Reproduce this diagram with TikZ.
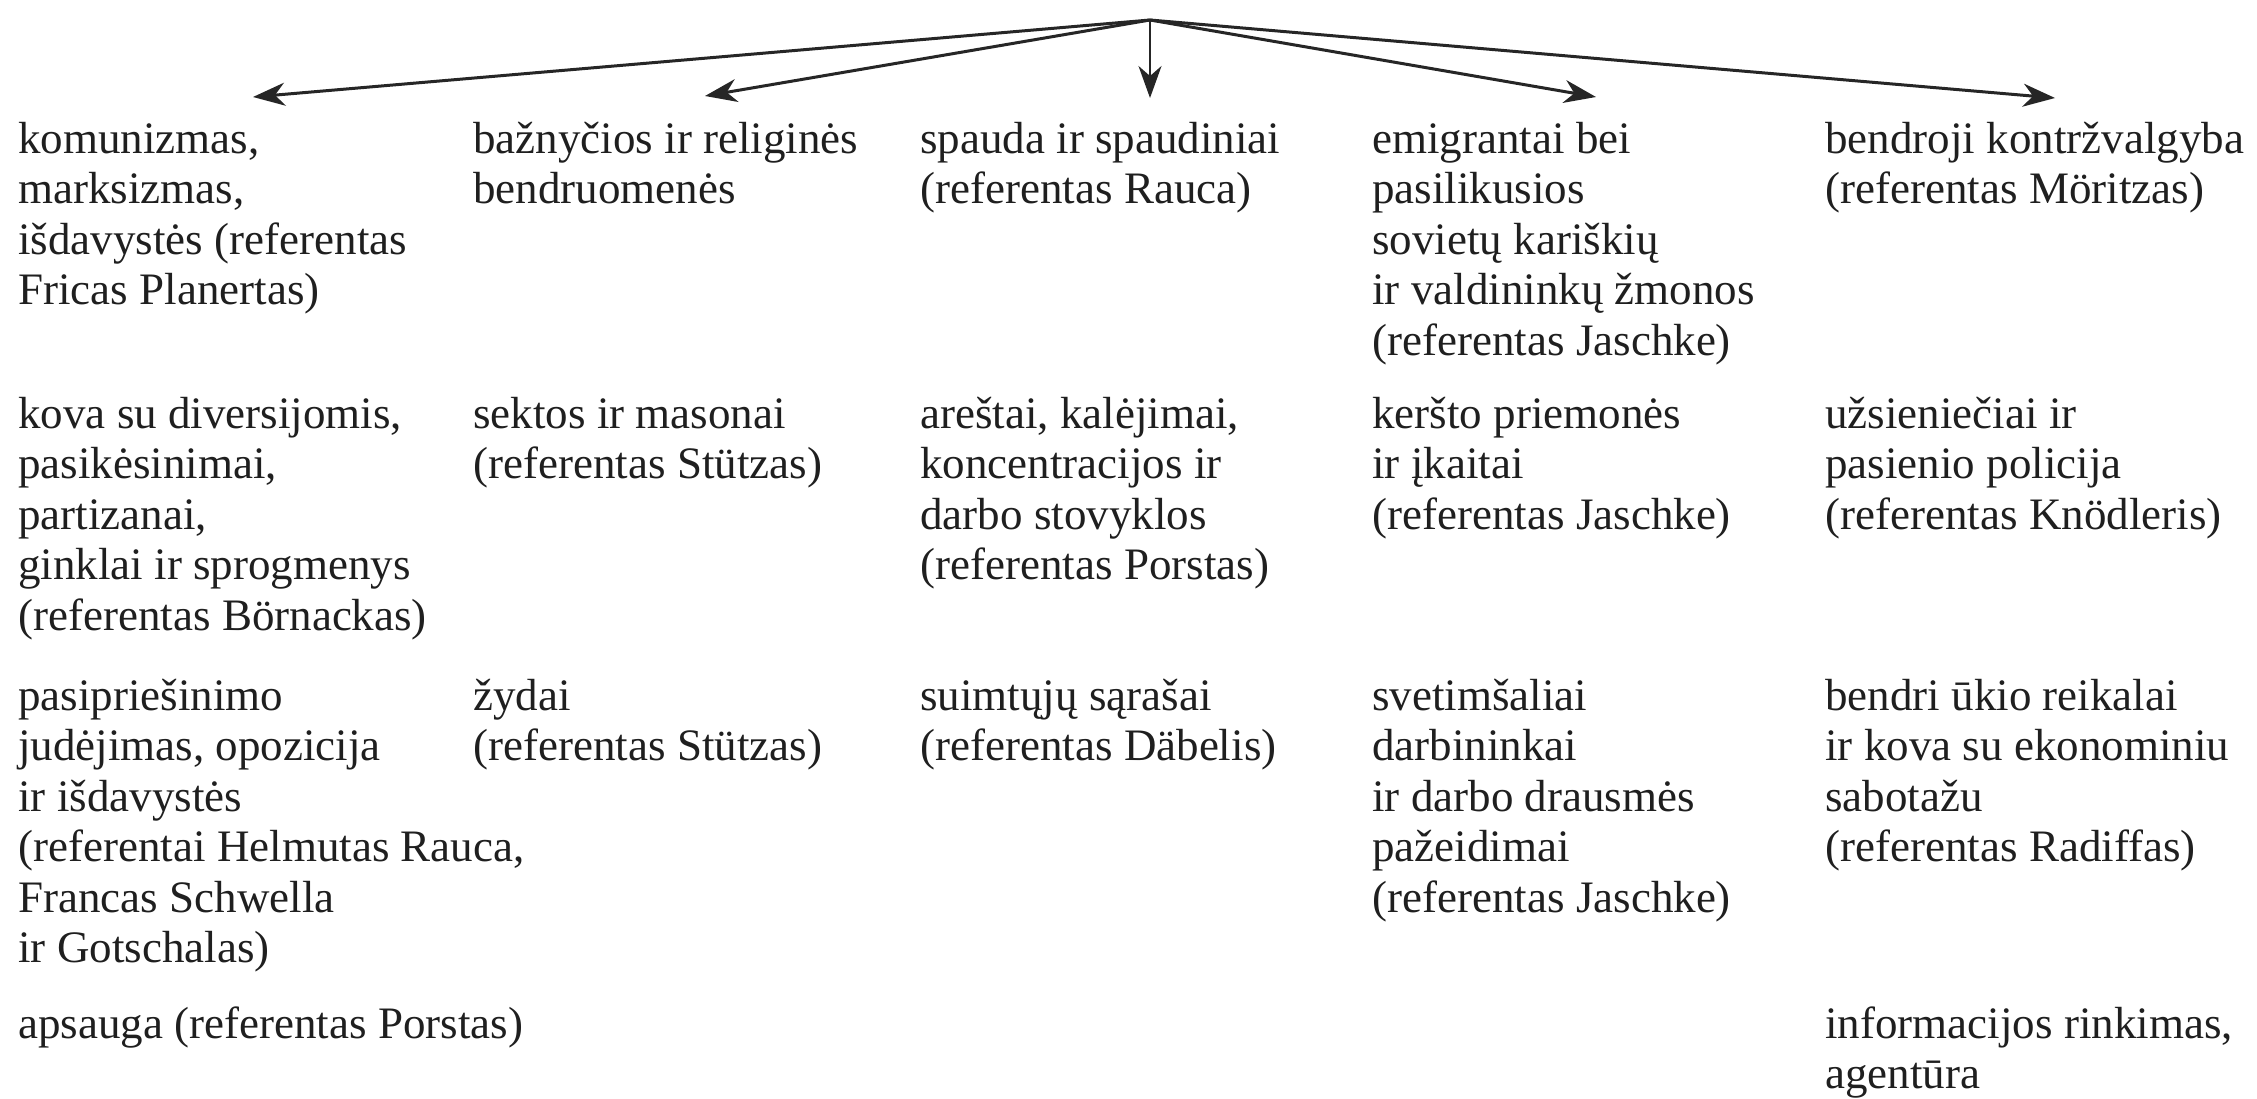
\documentclass[tikz,border=0pt]{standalone}
\usepackage{fontspec}
\setmainfont{Liberation Serif}
\usetikzlibrary{arrows.meta}
\newcommand\firstrule{\rule{0pt}{0.8em}}
\begin{document}
\begin{tikzpicture}[x=0.5pt,y=-0.5pt,
  txt/.style={anchor=north west, inner sep=0pt, align=left, text=black!88,
    font={\fontsize{22.5pt}{25.25pt}\selectfont}},
  arr/.style={draw=black!85, line width=1.5pt,
    -{Stealth[length=16pt,width=11.5pt,inset=5pt]}}]
\useasboundingbox (0,0) rectangle (2257,1098);
% rows: first baselines 153, 428, 710, 1038 ; top = baseline - 36
\def\ra{117}\def\rb{392}\def\rc{674}\def\rd{1002}
% column 1
\node[txt] (c1r1) at (18,\ra) {\firstrule komunizmas,\\marksizmas,\\išdavystės (referentas\\Fricas Planertas)};
\node[txt] (c1r2) at (18,\rb) {\firstrule kova su diversijomis,\\pasikėsinimai,\\partizanai,\\ginklai ir sprogmenys\\(referentas Börnackas)};
\node[txt] (c1r3) at (18,\rc) {\firstrule pasipriešinimo\\judėjimas, opozicija\\ir išdavystės\\(referentai Helmutas Rauca,\\Francas Schwella\\ir Gotschalas)};
\node[txt] (c1r4) at (18,\rd) {\firstrule apsauga (referentas Porstas)};
% column 2
\node[txt] (c2r1) at (473,\ra) {\firstrule bažnyčios ir religinės\\bendruomenės};
\node[txt] (c2r2) at (473,\rb) {\firstrule sektos ir masonai\\(referentas Stützas)};
\node[txt] (c2r3) at (473,\rc) {\firstrule žydai\\(referentas Stützas)};
% column 3
\node[txt] (c3r1) at (920,\ra) {\firstrule spauda ir spaudiniai\\(referentas Rauca)};
\node[txt] (c3r2) at (920,\rb) {\firstrule areštai, kalėjimai,\\koncentracijos ir\\darbo stovyklos\\(referentas Porstas)};
\node[txt] (c3r3) at (920,\rc) {\firstrule suimtųjų sąrašai\\(referentas Däbelis)};
% column 4
\node[txt] (c4r1) at (1372,\ra) {\firstrule emigrantai bei\\pasilikusios\\sovietų kariškių\\ir valdininkų žmonos\\(referentas Jaschke)};
\node[txt] (c4r2) at (1372,\rb) {\firstrule keršto priemonės\\ir įkaitai\\(referentas Jaschke)};
\node[txt] (c4r3) at (1372,\rc) {\firstrule svetimšaliai\\darbininkai\\ir darbo drausmės\\pažeidimai\\(referentas Jaschke)};
% column 5
\node[txt] (c5r1) at (1825,\ra) {\firstrule bendroji kontržvalgyba\\(referentas Möritzas)};
\node[txt] (c5r2) at (1825,\rb) {\firstrule užsieniečiai ir\\pasienio policija\\(referentas Knödleris)};
\node[txt] (c5r3) at (1825,\rc) {\firstrule bendri ūkio reikalai\\ir kova su ekonominiu\\sabotažu\\(referentas Radiffas)};
\node[txt] (c5r4) at (1825,\rd) {\firstrule informacijos rinkimas,\\agentūra};
% arrows
\coordinate (src) at (1150,20);
\coordinate (t1) at (253,97);
\coordinate (t2) at (705,96);
\coordinate (t3) at (1150,98);
\coordinate (t4) at (1596,97);
\coordinate (t5) at (2055,98);
\foreach \t in {t1,t2,t4,t5} \draw[arr] (src) -- (\t);
\draw[arr, line width=1pt] (src) -- (t3);
\end{tikzpicture}
\end{document}
